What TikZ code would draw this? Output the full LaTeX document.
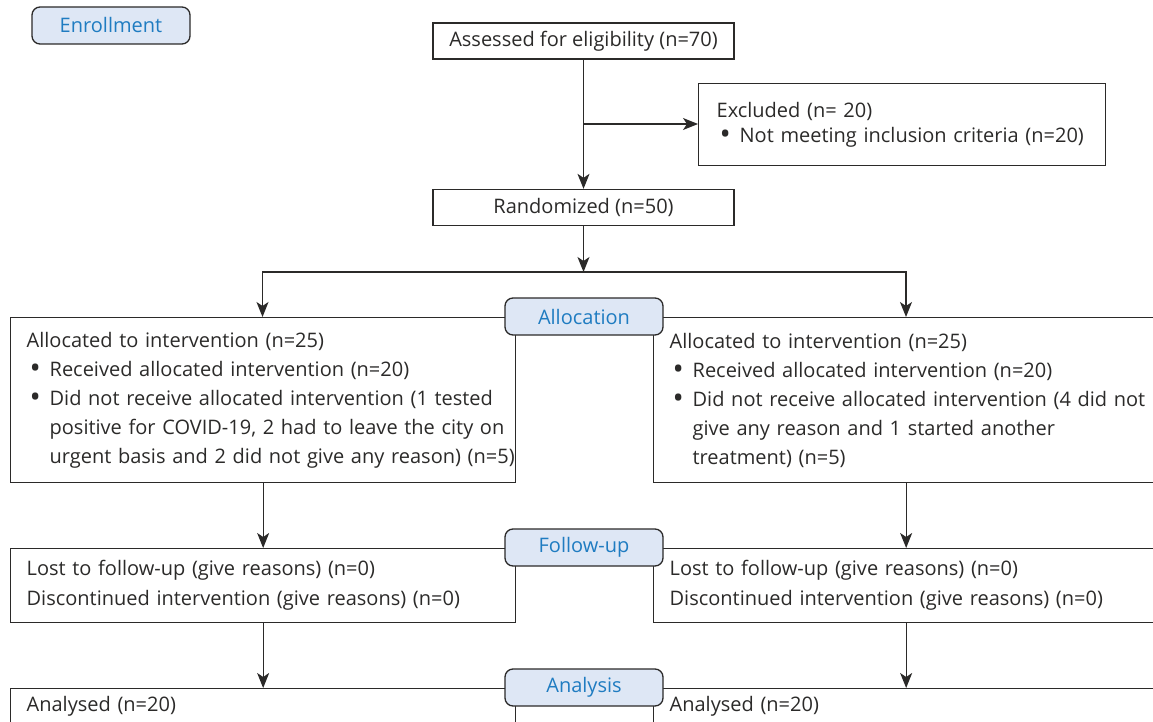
\documentclass[tikz,border=0pt]{standalone}
\usepackage{fontspec}
\setmainfont{Open Sans}
\usepackage{xcolor}
\usepackage{graphicx}
\usetikzlibrary{arrows.meta, positioning, calc}

\definecolor{inkgray}{HTML}{2B2A29}
\definecolor{stageblue}{HTML}{1F7CC1}
\definecolor{stagefill}{HTML}{DEE7F5}

\newcommand{\itm}[1]{\mbox{\makebox[23pt][l]{\hspace{3pt}\raisebox{-0.1em}{\scalebox{1.5}{\textbullet}}}#1}}
\newcommand{\cnt}[1]{\mbox{\hspace*{23pt}#1}}

\begin{document}
\begin{tikzpicture}[x=1pt, y=-1pt,
    font=\fontsize{20}{29}\selectfont, text=inkgray,
    flowbox/.style={draw=inkgray, line width=1.3pt, rectangle, align=left, inner xsep=16pt, inner ysep=0pt, text width=473pt, anchor=north west},
    single/.style={draw=inkgray, line width=1.3pt, rectangle, align=center, minimum width=301pt, minimum height=36pt, inner sep=0pt},
    stage/.style={draw=inkgray, line width=1.3pt, rounded corners=8pt, fill=stagefill, text=stageblue, minimum width=158pt, minimum height=37pt, inner sep=0pt},
    arr/.style={draw=inkgray, line width=1.3pt, -{Stealth[length=15pt, width=12pt, inset=4pt]}}]
    \useasboundingbox (0,0) rectangle (1153,722);
    \clip (0,0) rectangle (1153,722);

    % Iscrizione
    \node[stage] (enrol) at (111,25.5) {Enrollment};
    \node[single] (assess) at (583.5,41) {Assessed for eligibility (n=70)};
    \node[flowbox, text width=371pt, inner xsep=18pt, minimum height=82pt, font=\fontsize{20}{25}\selectfont] (excl) at (698,83) {%
        Excluded (n= 20)\\
        \itm{Not meeting inclusion criteria (n=20)}};
    \node[single] (rand) at (583.5,207.5) {Randomized (n=50)};

    \coordinate (branch) at (583.5,124);
    \coordinate (fork) at (583.5,272);
    \draw[arr] (assess) -- (rand);
    \draw[arr] (branch) -- (branch -| excl.west);
    \draw[arr] (rand) -- (fork);
    \draw[arr] (fork) -| (262.5,317);
    \draw[arr] (fork) -| (906,317);

    % Allocazione
    \node[flowbox, minimum height=165pt] (allocL) at (10,317) {%
        Allocated to intervention (n=25)\\
        \itm{Received allocated intervention (n=20)}\\
        \itm{Did not receive allocated intervention (1 tested}\\
        \cnt{positive for COVID-19, 2 had to leave the city on}\\
        \cnt{urgent basis and 2 did not give any reason) (n=5)}};
    \node[flowbox, minimum height=165pt] (allocR) at (653,317) {%
        Allocated to intervention (n=25)\\
        \itm{Received allocated intervention (n=20)}\\
        \itm{Did not receive allocated intervention (4 did not}\\
        \cnt{give any reason and 1 started another}\\
        \cnt{treatment) (n=5)}};

    % Follow-up e analisi
    \foreach \s/\xx in {L/10, R/653}{
        \node[flowbox, minimum height=74pt, font=\fontsize{20}{30}\selectfont] (follow\s) at (\xx,548) {%
            Lost to follow-up (give reasons) (n=0)\\
            Discontinued intervention (give reasons) (n=0)};
        \node[flowbox, minimum height=36pt] (anal\s) at (\xx,688) {Analysed (n=20)};
        \draw[arr] (alloc\s) -- (follow\s);
        \draw[arr] (follow\s) -- (anal\s);
    }

    % Etichette delle fasi
    \foreach \nm/\yy/\txt in {alloc/316.5/Allocation, follow/547.5/Follow-up, anal/687.5/Analysis}{
        \node[stage] (\nm lab) at (584,\yy) {\txt};
    }
\end{tikzpicture}
\end{document}
